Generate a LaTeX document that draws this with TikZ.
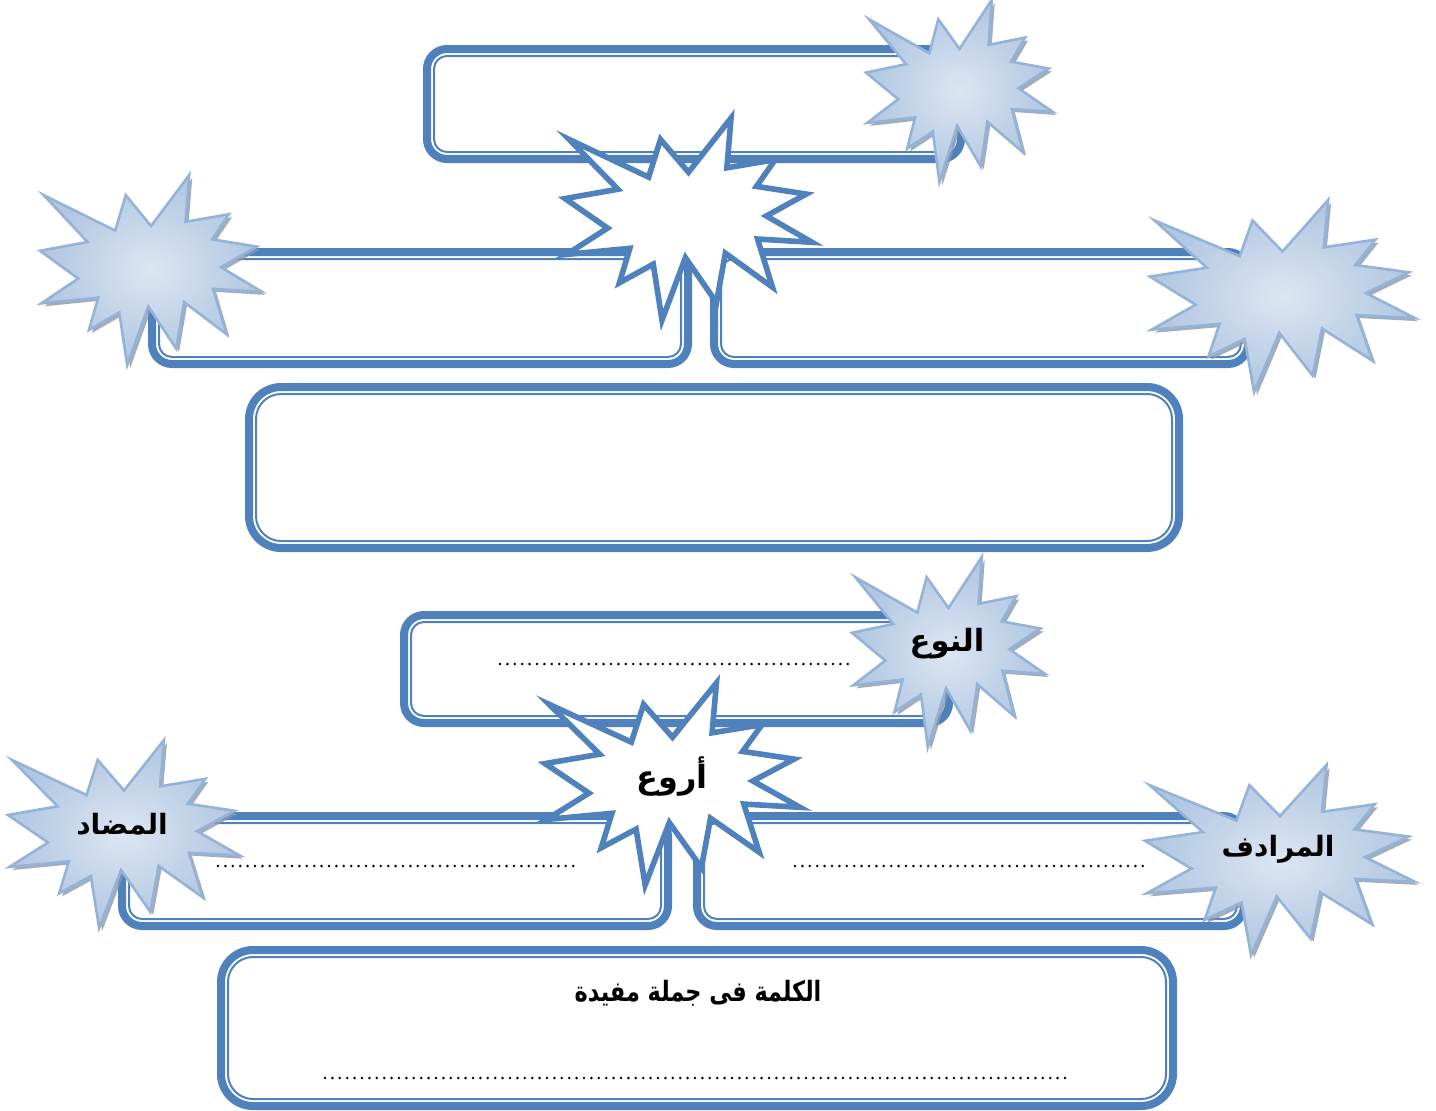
\documentclass[tikz,border=0pt]{standalone}
\usepackage{fontspec}
\newfontfamily\arabicfont[Script=Arabic]{DejaVu Sans}
\newfontfamily\arabiccond[Script=Arabic,FakeStretch=0.8]{DejaVu Sans}
\TeXXeTstate=1
\definecolor{bxblue}{HTML}{4F81BD}
\definecolor{sealedge}{HTML}{95B3D7}
\definecolor{sealin}{HTML}{DCE6F2}
\definecolor{sealout}{HTML}{B0C6E2}
\definecolor{sealshad}{HTML}{8A98AC}
\tikzset{
  boxouter/.style={draw=bxblue, line width=4pt, fill=white, rounded corners=10pt, inner sep=0pt, outer sep=0pt, rectangle},
  bigouter/.style={boxouter, rounded corners=16pt},
  boxinner/.style={draw=bxblue, line width=1pt, rounded corners=6.5pt},
  biginner/.style={draw=bxblue, line width=1pt, rounded corners=12.5pt},
  sealshadow/.style={fill=sealshad, opacity=0.8},
  sealfill/.style={shade, inner color=sealin, outer color=sealout, draw=sealedge, line width=1.3pt, line join=miter},
  whiteseal/.style={fill=white, draw=bxblue, line width=2.8pt, line join=miter},
  dotline/.style={line width=1.4pt, line cap=round, dash pattern=on 0pt off 3.7pt},
  lbl/.style={font=\arabicfont\bfseries\fontsize{14}{16}\selectfont, inner sep=0pt, text=black},
}
\newcommand\sealdraw[1]{\path[#1] (50,26.85) -- (67.23,0) -- (65.53,24.65) -- (85.09,20.64) -- (77.51,33.86) -- (97.67,37.67) -- (81.51,48.50) -- (100,61.53) -- (77.95,59.92) -- (84.00,83.77) -- (64.91,66.93) -- (61.33,91.38) -- (48.76,69.14) -- (39.28,100) -- (35.72,72.35) -- (22.05,81.56) -- (26.24,64.52) -- (0.63,67.53) -- (17.23,54.51) -- (0,39.88) -- (21.42,35.26) -- (1.71,10.63) -- (33.85,29.26) -- (38.67,10.63) -- cycle;}
\newcommand\blueseal[4]{%
  \pgfmathsetmacro\sealsx{(#3-#1)/100}\pgfmathsetmacro\sealsy{(#4-#2)/100}%
  \begin{scope}[shift={(#1+3,#2+3)},xscale=\sealsx,yscale=\sealsy]\sealdraw{sealshadow}\end{scope}%
  \begin{scope}[shift={(#1,#2)},xscale=\sealsx,yscale=\sealsy]\sealdraw{sealfill}\end{scope}}
\newcommand\whiteburst[4]{%
  \pgfmathsetmacro\sealsx{(#3-#1)/100}\pgfmathsetmacro\sealsy{(#4-#2)/100}%
  \begin{scope}[shift={(#1,#2)},xscale=\sealsx,yscale=\sealsy]\sealdraw{whiteseal}\end{scope}}
\newcommand\innerline[2]{\draw[#2] ([shift={(7,7)}]#1.north west) rectangle ([shift={(-7,-7)}]#1.south east);}
\begin{document}
\begin{tikzpicture}[x=0.5pt,y=-0.5pt]
\clip (0,0) rectangle (1436,1110);
\fill[white] (0,0) rectangle (1436,1110);
% ---------- upper (empty) template ----------
\node[boxouter, minimum width=267pt, minimum height=55pt] (topbox) at (694,104) {};
\innerline{topbox}{boxinner}
\node[boxouter, minimum width=268pt, minimum height=56pt] (leftbox) at (420,308) {};
\innerline{leftbox}{boxinner}
\node[boxouter, minimum width=267pt, minimum height=56pt] (rightbox) at (981,308) {};
\innerline{rightbox}{boxinner}
\node[bigouter, minimum width=465pt, minimum height=80.5pt] (bigbox) at (714,467.5) {};
\innerline{bigbox}{biginner}
\blueseal{866}{0}{1053}{182}
\whiteburst{565}{118}{812}{320}
\blueseal{40}{175}{262}{365}
\blueseal{1150}{200}{1415}{392}
% ---------- lower (filled) template ----------
\node[boxouter, minimum width=272.5pt, minimum height=54pt] (typebox) at (676.5,669) {};
\innerline{typebox}{boxinner}
\node[boxouter, minimum width=273pt, minimum height=55pt] (antbox) at (395,871) {};
\innerline{antbox}{boxinner}
\node[boxouter, minimum width=273.5pt, minimum height=55pt] (synbox) at (970.5,871) {};
\innerline{synbox}{boxinner}
\node[bigouter, minimum width=476pt, minimum height=78pt] (sentbox) at (697,1028) {};
\innerline{sentbox}{biginner}
\draw[dotline] (500,664) -- (855,664);
\draw[dotline] (218,866) -- (575,866);
\draw[dotline] (795,866) -- (1150,866);
\draw[dotline] (325,1078) -- (1072,1078);
\blueseal{852}{557}{1045}{747}
\whiteburst{545}{683}{800}{885}
\blueseal{8}{740}{240}{928}
\blueseal{1145}{765}{1415}{955}
\node[lbl, font=\arabicfont\bfseries\fontsize{15.3}{17}\selectfont] (typelbl) at (947,644) {\beginR النوع\endR};
\node[lbl, font=\arabicfont\bfseries\fontsize{16}{18}\selectfont] (wordlbl) at (672,777) {\beginR أروع\endR};
\node[lbl] (antlbl) at (122,824) {\beginR المضاد\endR};
\node[lbl] (synlbl) at (1278,849) {\beginR المرادف\endR};
\node[lbl, font=\arabiccond\bfseries\fontsize{14}{16}\selectfont] (sentlbl) at (698,993) {\beginR الكلمة فى جملة مفيدة\endR};
\end{tikzpicture}
\end{document}
